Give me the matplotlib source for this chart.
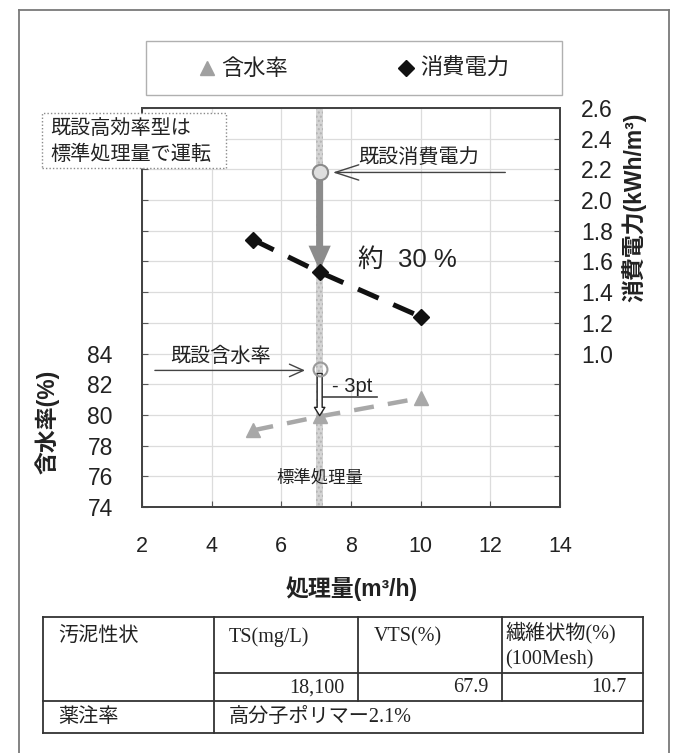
import matplotlib
matplotlib.use("Agg")
import matplotlib.pyplot as plt
from matplotlib.patches import Rectangle
from matplotlib.lines import Line2D

# ---- data -------------------------------------------------------------
throughput = [5.2, 7.1, 10.0]          # 処理量 (m3/h)
moisture = [79.0, 79.9, 81.1]          # 含水率 (%)
power = [1.74, 1.53, 1.24]             # 消費電力 (kWh/m3)

std_throughput = 7.1                   # 標準処理量
existing_power = 2.18                  # 既設消費電力
existing_moisture = 83.0               # 既設含水率

x_ticks = [2, 4, 6, 8, 10, 12, 14]
moist_ticks = [74 + 2 * i for i in range(14)]          # 74 .. 100
moist_labels = [str(v) if v <= 84 else "" for v in moist_ticks]
power_ticks = [round(0.2 * i, 1) for i in range(14)]   # 0.0 .. 2.6
power_labels = [f"{v:.1f}" if v >= 1.0 else "" for v in power_ticks]

table_header = ["汚泥性状", "TS(mg/L)", "VTS(%)", "繊維状物(%)\n(100Mesh)"]
table_values = ["18,100", "67.9", "10.7"]
dosing_label = "薬注率"
dosing_value = "高分子ポリマー2.1%"

# ---- styling ----------------------------------------------------------
W, H = 677, 753
JP = ["Noto Sans CJK JP", "DejaVu Sans"]
SANS = ["Liberation Sans", "Noto Sans CJK JP"]
SERIF = ["Liberation Serif", "Noto Sans CJK JP"]
TXT = "#222222"
plt.rcParams["font.family"] = SANS

fig = plt.figure(figsize=(W / 100, H / 100), dpi=100)


def fx(x):
    return x / W


def fy(y):
    return 1 - y / H


def fig_line(x0, y0, x1, y1, **kw):
    fig.add_artist(Line2D([fx(x0), fx(x1)], [fy(y0), fy(y1)],
                          transform=fig.transFigure, **kw))


def fig_text(x, y, s, **kw):
    kw.setdefault("color", TXT)
    fig.text(fx(x), fy(y), s, **kw)


# outer frame (open at the bottom)
frame_kw = dict(color="#7a7a7a", lw=1.3)
fig_line(19, 10, 669, 10, **frame_kw)
fig_line(19, 10, 19, 760, **frame_kw)
fig_line(669, 10, 669, 760, **frame_kw)

# ---- main axes --------------------------------------------------------
ax = fig.add_axes([fx(142), fy(507), (560 - 142) / W, (507 - 108) / H])
ax2 = ax.twinx()

ax.set_xlim(2, 14)
ax.set_ylim(74, 100)
ax2.set_ylim(0, 2.6)

ax.set_xticks(x_ticks)
ax.set_xticklabels([str(v) for v in x_ticks])
ax.set_yticks(moist_ticks)
ax.set_yticklabels(moist_labels)
ax2.set_yticks(power_ticks)
ax2.set_yticklabels(power_labels)

ax.grid(True, color="#dcdcdc", lw=0.9)
ax.set_axisbelow(True)

ax.tick_params(axis="x", direction="in", length=4, pad=21, labelsize=15.5,
               colors="#555555", labelcolor=TXT)
ax.tick_params(axis="y", direction="in", length=4, pad=21, labelsize=16.5,
               colors="#555555", labelcolor=TXT)
ax2.tick_params(axis="y", direction="in", length=4, pad=15, labelsize=16.5,
                colors="#555555", labelcolor=TXT)
for a in (ax, ax2):
    for sp in a.spines.values():
        sp.set_color("#444444")
        sp.set_linewidth(1.4)

# standard-throughput band
ax.axvspan(std_throughput - 0.11, std_throughput + 0.11,
           facecolor="#d4d4d4", edgecolor="#b4b4b4", hatch="....",
           lw=0, zorder=1)

# moisture series
ax.plot(throughput, moisture, color="#a8a8a8", lw=3.2,
        dashes=(4.5, 3.2), marker="^", ms=10, mfc="#a8a8a8",
        mec="#a8a8a8", zorder=3)

# existing moisture and the -3pt drop
ax.annotate("", xy=(std_throughput, moisture[1] + 0.05),
            xytext=(std_throughput, existing_moisture - 0.3),
            arrowprops=dict(arrowstyle="simple,head_length=0.6,head_width=0.75,tail_width=0.36",
                            mutation_scale=10, fc="white", ec="#222222",
                            lw=1.0, shrinkA=0, shrinkB=0), zorder=4)
ax.plot(std_throughput, existing_moisture, "o", ms=10, mfc="none",
        mec="#9a9a9a", mew=1.5, zorder=4)
ax.annotate("", xy=(6.68, existing_moisture - 0.1),
            xytext=(2.37, existing_moisture - 0.1),
            arrowprops=dict(arrowstyle="->,head_length=1.0,head_width=0.45",
                            mutation_scale=10, color="#444444", lw=1.0,
                            shrinkA=0, shrinkB=0))
ax.text(2.8, 83.8, "既設含水率", family=JP, fontsize=14.5, color=TXT,
        va="center", ha="left")
ax.text(8.03, 81.85, "- 3pt", family=SANS, fontsize=14.5, color=TXT,
        va="center", ha="center")
ax.plot([7.2, 8.75], [81.15, 81.15], color="#444444", lw=1.2)
ax.text(std_throughput, 75.9, "標準処理量", family=JP, fontsize=12.5,
        color=TXT, va="center", ha="center", zorder=5)

# power series
ax2.plot(throughput, power, color="#111111", lw=3.6, dashes=(4.5, 3.2),
         marker="D", ms=8.5, mfc="#111111", mec="#111111", zorder=3)

# existing power and the reduction arrow
ax2.annotate("", xy=(std_throughput, power[1] + 0.01),
             xytext=(std_throughput, existing_power - 0.05),
             arrowprops=dict(arrowstyle="simple,head_length=1.8,head_width=1.6,tail_width=0.5",
                             mutation_scale=10, fc="#8c8c8c", ec="none",
                             shrinkA=0, shrinkB=0), zorder=2)
ax2.plot(std_throughput, existing_power, "o", ms=11, mfc="#dedede",
         mec="#8a8a8a", mew=1.5, zorder=4)
ax2.annotate("", xy=(7.48, existing_power), xytext=(12.43, existing_power),
             arrowprops=dict(arrowstyle="->,head_length=1.7,head_width=0.55",
                             mutation_scale=10, color="#444444", lw=1.0,
                             shrinkA=0, shrinkB=0))
ax2.text(8.2, 2.28, "既設消費電力", family=JP, fontsize=14.5, color=TXT,
         va="center", ha="left")
ax2.text(8.2, 1.61, "約  30 %", family=SANS, fontsize=18.5, color=TXT,
         va="center", ha="left")

# axis titles
fig_text(47, 422, "含水率(%)", family=SANS, fontsize=16.5, rotation=90,
         ha="center", va="center", fontweight="bold")
fig_text(634, 207, "消費電力(kWh/m³)", family=SANS, fontsize=16.5,
         rotation=90, ha="center", va="center", fontweight="bold")
fig_text(352, 589, "処理量(m³/h)", family=SANS, fontsize=16.5,
         ha="center", va="center", fontweight="bold")

# ---- legend box -------------------------------------------------------
fig.add_artist(Rectangle((fx(146), fy(95)), (562 - 146) / W, (95 - 41) / H,
                         transform=fig.transFigure, fill=False,
                         ec="#b0b0b0", lw=1.0))
fig.add_artist(Line2D([fx(207)], [fy(68)], transform=fig.transFigure,
                      marker="^", ms=10, color="#a0a0a0", ls="none"))
fig_text(221, 68, "含水率", family=JP, fontsize=16, ha="left", va="center")
fig.add_artist(Line2D([fx(406)], [fy(68)], transform=fig.transFigure,
                      marker="D", ms=8, color="#111111", ls="none"))
fig_text(420, 68, "消費電力", family=JP, fontsize=16, ha="left", va="center")

# ---- note box ---------------------------------------------------------
fig.add_artist(Rectangle((fx(42), fy(168)), (226 - 42) / W, (168 - 113) / H,
                         transform=fig.transFigure, fc="white",
                         ec="#8a8a8a", lw=1.0, ls=(0, (1, 1.5)), zorder=5))
fig_text(50, 128, "既設高効率型は", family=JP, fontsize=14.5, ha="left",
         va="center", zorder=6)
fig_text(50, 155, "標準処理量で運転", family=JP, fontsize=14.5, ha="left",
         va="center", zorder=6)

# ---- sludge property table -------------------------------------------
tl = dict(color="#333333", lw=1.3)
left, right, top, bottom = 43, 643, 617, 733
row_hdr, row_val = 673, 701
cols = [43, 214, 358, 502, 643]
fig_line(left, top, right, top, **tl)
fig_line(left, bottom, right, bottom, **tl)
fig_line(left, top, left, bottom, **tl)
fig_line(right, top, right, bottom, **tl)
fig_line(cols[1], top, cols[1], bottom, **tl)
fig_line(cols[2], top, cols[2], row_val, **tl)
fig_line(cols[3], top, cols[3], row_val, **tl)
fig_line(cols[1], row_hdr, right, row_hdr, **tl)
fig_line(left, row_val, right, row_val, **tl)

fig_text(58, 637, table_header[0], family=SERIF, fontsize=14.5,
         ha="left", va="center")
fig_text(229, 637, table_header[1], family=SERIF, fontsize=14.5,
         ha="left", va="center")
fig_text(374, 637, table_header[2], family=SERIF, fontsize=14.5,
         ha="left", va="center")
hdr4 = table_header[3].split("\n")
fig_text(505, 633, hdr4[0], family=SERIF, fontsize=14.5, ha="left",
         va="center")
fig_text(505, 660, hdr4[1], family=SERIF, fontsize=14.5, ha="left",
         va="center")
for xr, val in zip([344, 488, 627], table_values):
    fig_text(xr, 688, val, family=SERIF, fontsize=14.5, ha="right",
             va="center")
fig_text(58, 717, dosing_label, family=SERIF, fontsize=14.5, ha="left",
         va="center")
fig_text(229, 717, dosing_value, family=SERIF, fontsize=14.5, ha="left",
         va="center")

fig.savefig("out.png", dpi=100)
